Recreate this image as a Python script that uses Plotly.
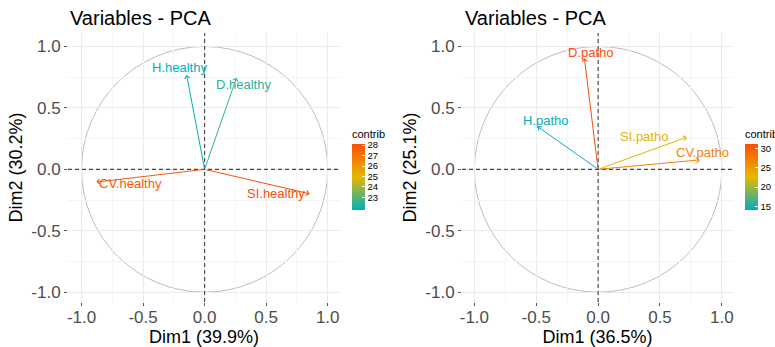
import plotly.graph_objects as go
from plotly.colors import sample_colorscale

# ---------------- data ----------------
vars_left = ["H.healthy", "D.healthy", "CV.healthy", "SI.healthy"]
dim1_left = [-0.146, 0.259, -0.880, 0.854]
dim2_left = [0.768, 0.746, -0.104, -0.199]
contrib_left = [21.8, 22.4, 27.8, 28.1]
xlab_left = "Dim1 (39.9%)"
ylab_left = "Dim2 (30.2%)"

vars_right = ["D.patho", "H.patho", "SI.patho", "CV.patho"]
dim1_right = [-0.111, -0.488, 0.717, 0.822]
dim2_right = [0.904, 0.348, 0.262, 0.077]
contrib_right = [31.1, 14.1, 22.9, 26.8]
xlab_right = "Dim1 (36.5%)"
ylab_right = "Dim2 (25.1%)"

tick_vals = [-1.0, -0.5, 0.0, 0.5, 1.0]
tick_text = ["-1.0", "-0.5", "0.0", "0.5", "1.0"]
cb_ticks_left = [23, 24, 25, 26, 27, 28]
cb_ticks_right = [15, 20, 25, 30]
title_text = "Variables - PCA"
legend_title = "contrib"

# ---------------- style ----------------
W, H = 775, 347
FONT = "Liberation Sans, Arial, Helvetica, sans-serif"
CSCALE = [[0.0, "#00AFBB"], [0.5, "#E7B800"], [1.0, "#FC4E07"]]

# label offsets (pixels) relative to arrow tip: (xanchor, xshift, yshift)
lab_style_left = [("center", -7, 8), ("center", 7, -7), ("left", 1, -1), ("right", -3, 0)]
lab_style_right = [("center", 7, 6), ("center", 8, 6), ("right", -17, 1), ("center", 3, 7)]

panels = [
    dict(x=dim1_left, y=dim2_left, c=contrib_left, names=vars_left, xl=xlab_left, yl=ylab_left,
         xdom=(68, 340), xr=[-1.11, 1.10], cbx=352, tx=68, styles=lab_style_left, cbt=cb_ticks_left),
    dict(x=dim1_right, y=dim2_right, c=contrib_right, names=vars_right, xl=xlab_right, yl=ylab_right,
         xdom=(462, 733), xr=[-1.10, 1.09], cbx=745, tx=463, styles=lab_style_right, cbt=cb_ticks_right),
]
ydom = (1 - 302 / H, 1 - 33 / H)
yr = [-1.08, 1.11]

fig = go.Figure()
annotations = []
shapes = []
layout_axes = {}

for i, p in enumerate(panels, start=1):
    xa = "x" if i == 1 else f"x{i}"
    ya = "y" if i == 1 else f"y{i}"
    cax = "coloraxis" if i == 1 else f"coloraxis{i}"
    axis_common = dict(
        tickvals=tick_vals, ticktext=tick_text,
        tickfont=dict(size=17, color="#4D4D4D", family=FONT),
        showgrid=True, gridcolor="#EBEBEB", gridwidth=1,
        minor=dict(dtick=0.25, tick0=0, showgrid=True, gridcolor="#F4F4F4", gridwidth=0.6, ticks=""),
        zeroline=False, showline=False,
        ticks="outside", ticklen=3, tickcolor="#555555", tickwidth=1,
        fixedrange=True, automargin=False,
    )
    layout_axes[("xaxis" if i == 1 else f"xaxis{i}")] = dict(
        axis_common, domain=[p["xdom"][0] / W, p["xdom"][1] / W], range=p["xr"],
        anchor=ya, ticklabelstandoff=-3,
        title=dict(text=p["xl"], font=dict(size=18, color="black", family=FONT), standoff=4),
    )
    layout_axes[("yaxis" if i == 1 else f"yaxis{i}")] = dict(
        axis_common, domain=list(ydom), range=yr, anchor=xa,
        title=dict(text=p["yl"], font=dict(size=18, color="black", family=FONT), standoff=4),
    )
    layout_axes[cax] = dict(
        colorscale=CSCALE, cmin=min(p["c"]), cmax=max(p["c"]),
        colorbar=dict(
            x=p["cbx"] / W, xanchor="left", xpad=0,
            y=1 - 168.5 / H, yanchor="middle", ypad=0,
            len=83, lenmode="pixels", thickness=13, thicknessmode="pixels",
            outlinewidth=0,
            title=dict(text=legend_title, side="top", font=dict(size=11, color="black", family=FONT)),
            tickfont=dict(size=9.5, color="black", family=FONT),
            tickvals=p["cbt"],
            ticks="inside", ticklen=3, tickcolor="white",
        ),
    )
    # invisible trace that carries the colour scale
    fig.add_trace(go.Scatter(
        x=p["x"], y=p["y"], mode="markers", xaxis=xa, yaxis=ya,
        marker=dict(color=p["c"], coloraxis=cax, size=1, opacity=0),
        hoverinfo="skip", showlegend=False,
    ))

    # correlation circle and reference lines
    shapes.append(dict(type="circle", xref=xa, yref=ya, x0=-1, x1=1, y0=-1, y1=1,
                       line=dict(color="#BEBEBE", width=1), layer="below"))
    shapes.append(dict(type="line", xref=f"{xa} domain", yref=ya, x0=0, x1=1, y0=0, y1=0,
                       line=dict(color="#444444", width=1.1, dash="4px,3px")))
    shapes.append(dict(type="line", xref=xa, yref=f"{ya} domain", x0=0, x1=0, y0=0, y1=1,
                       line=dict(color="#444444", width=1.1, dash="4px,3px")))

    cmin, cmax = min(p["c"]), max(p["c"])
    cols = sample_colorscale(CSCALE, [(v - cmin) / (cmax - cmin) for v in p["c"]])
    for xv, yv, name, col, (xanc, xs, ys) in zip(p["x"], p["y"], p["names"], cols, p["styles"]):
        annotations.append(dict(
            x=xv, y=yv, xref=xa, yref=ya, ax=0, ay=0, axref=xa, ayref=ya,
            text="", showarrow=True, arrowhead=4, arrowsize=1.0, arrowwidth=1,
            arrowcolor=col, standoff=0, startstandoff=0,
        ))
        annotations.append(dict(
            x=xv, y=yv, xref=xa, yref=ya, text=name, showarrow=False,
            xanchor=xanc, yanchor="middle", xshift=xs, yshift=ys,
            font=dict(size=13, color=col, family=FONT),
        ))
    annotations.append(dict(
        x=p["tx"] / W, y=1 - 18 / H, xref="paper", yref="paper", text=title_text,
        showarrow=False, xanchor="left", yanchor="middle",
        font=dict(size=20, color="black", family=FONT),
    ))

fig.update_layout(
    width=W, height=H, margin=dict(l=0, r=0, t=0, b=0, autoexpand=False),
    paper_bgcolor="white", plot_bgcolor="white",
    font=dict(family=FONT),
    showlegend=False,
    annotations=annotations, shapes=shapes,
    **layout_axes,
)

fig.write_html(
    "out.html",
    config={"displayModeBar": False},
    post_script="document.body.style.margin='0';document.body.style.overflow='hidden';",
)
